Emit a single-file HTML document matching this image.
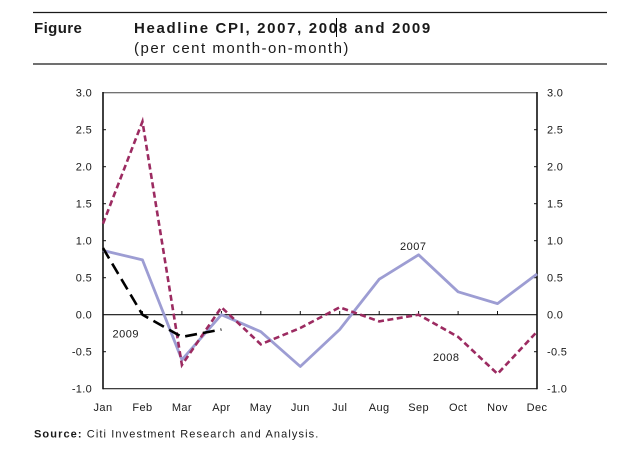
<!DOCTYPE html>
<html>
<head>
<meta charset="utf-8">
<style>
  html,body{margin:0;padding:0;background:#fff;}
  svg{display:block;}
  text{font-family:"Liberation Sans", Arial, sans-serif; fill:#1a1a1a;}
</style>
</head>
<body>
<svg width="624" height="454" viewBox="0 0 624 454" xmlns="http://www.w3.org/2000/svg">
  <!-- header rules -->
  <line x1="33" y1="12.5" x2="607" y2="12.5" stroke="#1a1a1a" stroke-width="1.2"/>
  <line x1="33" y1="64" x2="607" y2="64" stroke="#1a1a1a" stroke-width="1.2"/>
  <text x="34" y="33" font-size="15" font-weight="bold" letter-spacing="0.4">Figure</text>
  <text x="134" y="33" font-size="15" font-weight="bold" letter-spacing="1.65">Headline CPI, 2007, 2008 and 2009</text>
  <line x1="336.5" y1="18" x2="336.5" y2="37" stroke="#000" stroke-width="1"/>
  <text x="134" y="53" font-size="15" letter-spacing="1.5">(per cent month-on-month)</text>

  <!-- frame -->
  <line x1="103" y1="92.7" x2="537" y2="92.7" stroke="#444" stroke-width="1"/>
  <line x1="103" y1="388.7" x2="537" y2="388.7" stroke="#222" stroke-width="1.2"/>
  <line x1="103" y1="92" x2="103" y2="389.3" stroke="#111" stroke-width="1.6"/>
  <line x1="537" y1="92" x2="537" y2="389.3" stroke="#111" stroke-width="1.6"/>
  <!-- zero line -->
  <line x1="103" y1="314.7" x2="537" y2="314.7" stroke="#111" stroke-width="1.1"/>

  <!-- y ticks left/right -->
  <g stroke="#111" stroke-width="1">
    <line x1="103" y1="129.7" x2="106" y2="129.7"/><line x1="534" y1="129.7" x2="537" y2="129.7"/>
    <line x1="103" y1="166.7" x2="106" y2="166.7"/><line x1="534" y1="166.7" x2="537" y2="166.7"/>
    <line x1="103" y1="203.7" x2="106" y2="203.7"/><line x1="534" y1="203.7" x2="537" y2="203.7"/>
    <line x1="103" y1="240.7" x2="106" y2="240.7"/><line x1="534" y1="240.7" x2="537" y2="240.7"/>
    <line x1="103" y1="277.7" x2="106" y2="277.7"/><line x1="534" y1="277.7" x2="537" y2="277.7"/>
    <line x1="103" y1="351.7" x2="106" y2="351.7"/><line x1="534" y1="351.7" x2="537" y2="351.7"/>
    <!-- month ticks on zero line -->
    <line x1="142.45" y1="311" x2="142.45" y2="314.7"/>
    <line x1="181.9" y1="311" x2="181.9" y2="314.7"/>
    <line x1="221.4" y1="311" x2="221.4" y2="314.7"/>
    <line x1="260.8" y1="311" x2="260.8" y2="314.7"/>
    <line x1="300.3" y1="311" x2="300.3" y2="314.7"/>
    <line x1="339.7" y1="311" x2="339.7" y2="314.7"/>
    <line x1="379.2" y1="311" x2="379.2" y2="314.7"/>
    <line x1="418.6" y1="311" x2="418.6" y2="314.7"/>
    <line x1="458.1" y1="311" x2="458.1" y2="314.7"/>
    <line x1="497.5" y1="311" x2="497.5" y2="314.7"/>
  </g>

  <!-- left y labels -->
  <g font-size="11" text-anchor="end" letter-spacing="0.3">
    <text x="92" y="96.5">3.0</text>
    <text x="92" y="133.5">2.5</text>
    <text x="92" y="170.5">2.0</text>
    <text x="92" y="207.5">1.5</text>
    <text x="92" y="244.5">1.0</text>
    <text x="92" y="281.5">0.5</text>
    <text x="92" y="318.5">0.0</text>
    <text x="92" y="355.5">-0.5</text>
    <text x="92" y="392.5">-1.0</text>
  </g>
  <!-- right y labels -->
  <g font-size="11" letter-spacing="0.3">
    <text x="547" y="96.5">3.0</text>
    <text x="547" y="133.5">2.5</text>
    <text x="547" y="170.5">2.0</text>
    <text x="547" y="207.5">1.5</text>
    <text x="547" y="244.5">1.0</text>
    <text x="547" y="281.5">0.5</text>
    <text x="547" y="318.5">0.0</text>
    <text x="547" y="355.5">-0.5</text>
    <text x="547" y="392.5">-1.0</text>
  </g>
  <!-- month labels -->
  <g font-size="11" text-anchor="middle" letter-spacing="0.4">
    <text x="103" y="411">Jan</text>
    <text x="142.45" y="411">Feb</text>
    <text x="181.9" y="411">Mar</text>
    <text x="221.4" y="411">Apr</text>
    <text x="260.8" y="411">May</text>
    <text x="300.3" y="411">Jun</text>
    <text x="339.7" y="411">Jul</text>
    <text x="379.2" y="411">Aug</text>
    <text x="418.6" y="411">Sep</text>
    <text x="458.1" y="411">Oct</text>
    <text x="497.5" y="411">Nov</text>
    <text x="537" y="411">Dec</text>
  </g>

  <!-- 2007 series -->
  <polyline fill="none" stroke="#9d9dd3" stroke-width="2.8" stroke-linejoin="round"
    points="103,250.5 142.45,259.9 181.9,359.8 221.4,314.7 260.8,331.7 300.3,366.5 339.7,329.5 379.2,279.2 418.6,254.8 458.1,291.8 497.5,303.6 537,274"/>
  <!-- 2008 series -->
  <polyline fill="none" stroke="#9c2b61" stroke-width="2.6" stroke-dasharray="6,3.5"
    points="103,223.7 142.45,121.6 181.9,365 221.4,307.3 260.8,344.3 300.3,328 339.7,307.3 379.2,321.4 418.6,314.7 458.1,336.9 497.5,373.9 537,331.7"/>
  <!-- 2009 series -->
  <polyline fill="none" stroke="#000" stroke-width="2.6" stroke-dasharray="12,6"
    points="103,248.1 142.45,314.7 181.9,336.9 221.4,329.5"/>

  <!-- series labels -->
  <g font-size="11" letter-spacing="0.5">
    <text x="400" y="250">2007</text>
    <text x="433" y="361">2008</text>
    <text x="112.5" y="337.5">2009</text>
  </g>

  <!-- source -->
  <text x="34" y="437.5" font-size="11" letter-spacing="1.1"><tspan font-weight="bold">Source:</tspan> Citi Investment Research and Analysis.</text>
</svg>
</body>
</html>
